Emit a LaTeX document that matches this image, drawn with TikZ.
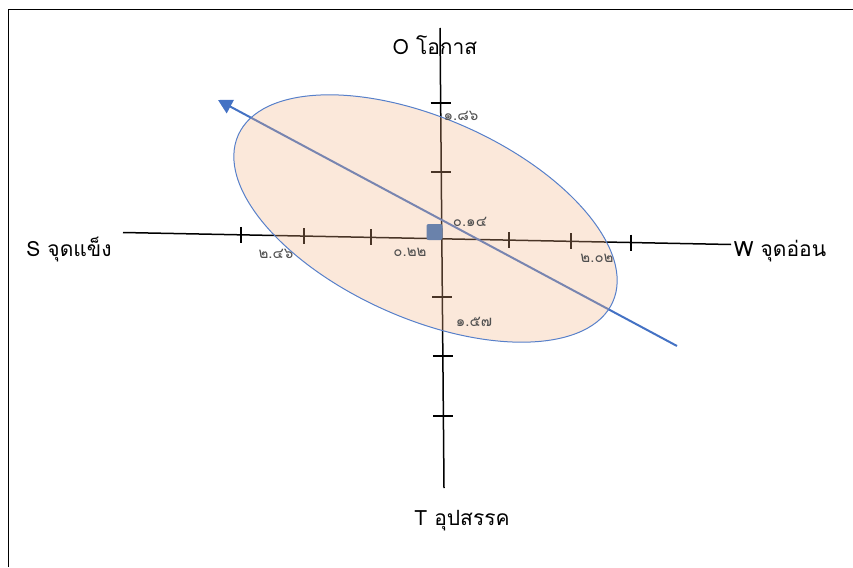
\documentclass[tikz,border=0pt]{standalone}
\usepackage{fontspec}
\newfontfamily\thaifont[Script=Thai]{Loma}
\usetikzlibrary{arrows.meta,calc}
\definecolor{swblue}{HTML}{4472C4}
\definecolor{swpeach}{HTML}{F2B284}
\definecolor{swsquare}{HTML}{6A82AB}
\definecolor{swgray}{HTML}{505050}
\begin{document}
\begin{tikzpicture}[x=1pt, y=-1pt, font=\thaifont,
  axisline/.style={line width=1.5pt, black},
  axistick/.style={line width=1.3pt, black},
  axislabel/.style={font=\thaifont\fontsize{21}{24}\selectfont, inner sep=0pt},
  value/.style={font=\thaifont\fontsize{15}{17}\selectfont, text=swgray, inner sep=0pt},
  trend/.style={line width=2pt, swblue, -{Triangle[length=14pt, width=15pt]}}]
  \useasboundingbox (0,0) rectangle (853,567);
  \draw[line width=1pt] (8,567) -- (8,10) -- (853,10);

  % axes
  \coordinate (axS) at (123,232.5);
  \coordinate (axW) at (731,244.5);
  \coordinate (axO) at (440,28);
  \coordinate (axT) at (444,488);
  \draw[axisline] (axS) -- (axW);
  \draw[axisline] (axO) -- (axT);
  \foreach \x in {241,304,371,509,571,631}
    \draw[axistick] ($(axS)!{(\x-123)/608}!(axW)$) ++(0,-8) -- ++(0,16);
  \foreach \y in {103,172,297,356,416}
    \draw[axistick] ($(axO)!{(\y-28)/460}!(axT)$) ++(-10,0) -- ++(20,0);

  % trend line
  \coordinate (tStart) at (677,346);
  \coordinate (tEnd) at (218,100);
  \draw[trend] (tStart) -- (tEnd);

  % strategy zone
  \coordinate (zone) at (425.5,218.5);
  \fill[swpeach, fill opacity=0.3, rotate around={-24:(zone)}]
    (zone) ellipse [x radius=205, y radius=100];
  \draw[swblue!90, line width=1pt, rotate around={-24:(zone)}]
    (zone) ellipse [x radius=205, y radius=100];
  \node[fill=swsquare, rounded corners=2pt, minimum size=16pt, inner sep=0pt]
    (pos) at (434.5,232) {};

  % labels
  \node[axislabel] (lO) at (435,45) {O โอกาส};
  \node[axislabel] (lS) at (69,250) {S จุดแข็ง};
  \node[axislabel] (lW) at (780,251) {W จุดอ่อน};
  \node[axislabel] (lT) at (462,521) {T อุปสรรค};
  \node[value] (vO) at (461,116) {๑.๘๖};
  \node[value] (vC) at (470,222) {๐.๑๔};
  \node[value] (vS1) at (410,252) {๐.๒๒};
  \node[value] (vS2) at (276,254) {๒.๔๖};
  \node[value] (vW) at (597,258) {๒.๐๒};
  \node[value] (vT) at (474,322) {๑.๕๗};
\end{tikzpicture}
\end{document}
